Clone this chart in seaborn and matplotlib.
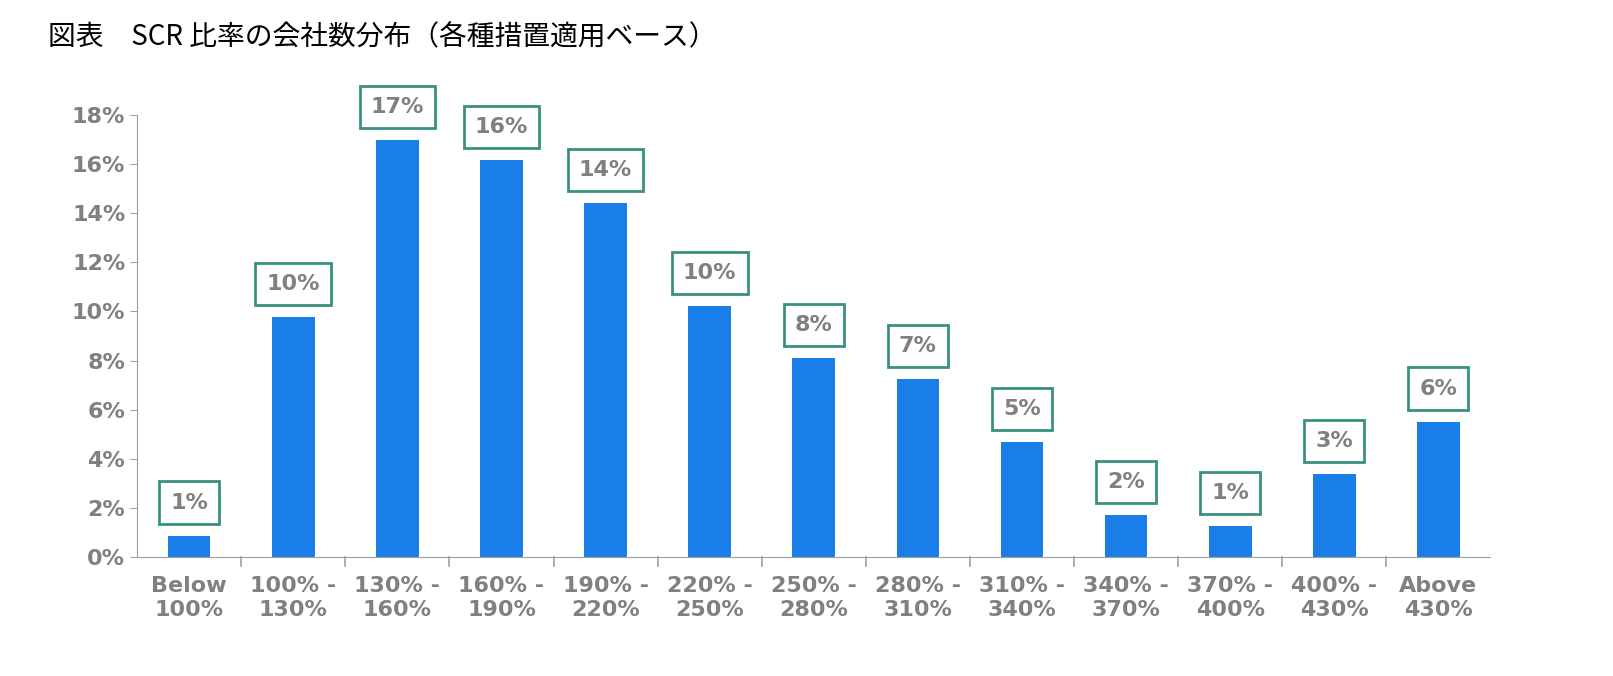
import matplotlib
matplotlib.use("Agg")
import matplotlib.pyplot as plt
import seaborn as sns
import pandas as pd

categories = ["Below\n100%", "100% -\n130%", "130% -\n160%", "160% -\n190%", "190% -\n220%",
              "220% -\n250%", "250% -\n280%", "280% -\n310%", "310% -\n340%", "340% -\n370%",
              "370% -\n400%", "400% -\n430%", "Above\n430%"]
values = [0.86, 9.77, 16.98, 16.16, 14.41, 10.22, 8.10, 7.25, 4.68, 1.71, 1.26, 3.38, 5.50]
labels = ["1%", "10%", "17%", "16%", "14%", "10%", "8%", "7%", "5%", "2%", "1%", "3%", "6%"]
yticks = [0, 2, 4, 6, 8, 10, 12, 14, 16, 18]

df = pd.DataFrame({"cat": categories, "val": values})
fig = plt.figure(figsize=(16.13, 6.76), dpi=100)
ax = fig.add_axes([0.085, 0.176, 0.839, 0.654])
sns.barplot(data=df, x="cat", y="val", color="#1a7ee8", saturation=1, width=0.41, ax=ax)
ax.set_ylim(0, 18)
ax.set_xlim(-0.5, len(categories) - 0.5)
ax.set_yticks(yticks)
ax.set_yticklabels([f"{t}%" for t in yticks])
ax.set_xlabel(""); ax.set_ylabel("")
gray = "#808080"
for s in ["top", "right"]:
    ax.spines[s].set_visible(False)
for s in ["left", "bottom"]:
    ax.spines[s].set_color("#a0a0a0")
ax.tick_params(axis="both", colors="#a0a0a0", labelcolor=gray, labelsize=16, length=5)
for t in ax.get_xticklabels() + ax.get_yticklabels():
    t.set_fontweight("bold")
ax.tick_params(axis="x", length=0, pad=14)
for i in range(len(categories) - 1):
    ax.plot([i + 0.5, i + 0.5], [0, -0.35], color="#a0a0a0", lw=1.2, clip_on=False)
for i, (v, l) in enumerate(zip(values, labels)):
    ax.annotate(l, (i, v), xytext=(0, 24), textcoords="offset points", ha="center", va="center",
                fontsize=16, fontweight="bold", color=gray,
                bbox=dict(boxstyle="square,pad=0.5", fc="white", ec="#3a9080", lw=2))
fig.text(0.03, 0.945, "図表　SCR 比率の会社数分布（各種措置適用ベース）", fontsize=20,
         family="Noto Sans CJK JP", va="center", ha="left")
fig.savefig("out.png", dpi=100)
